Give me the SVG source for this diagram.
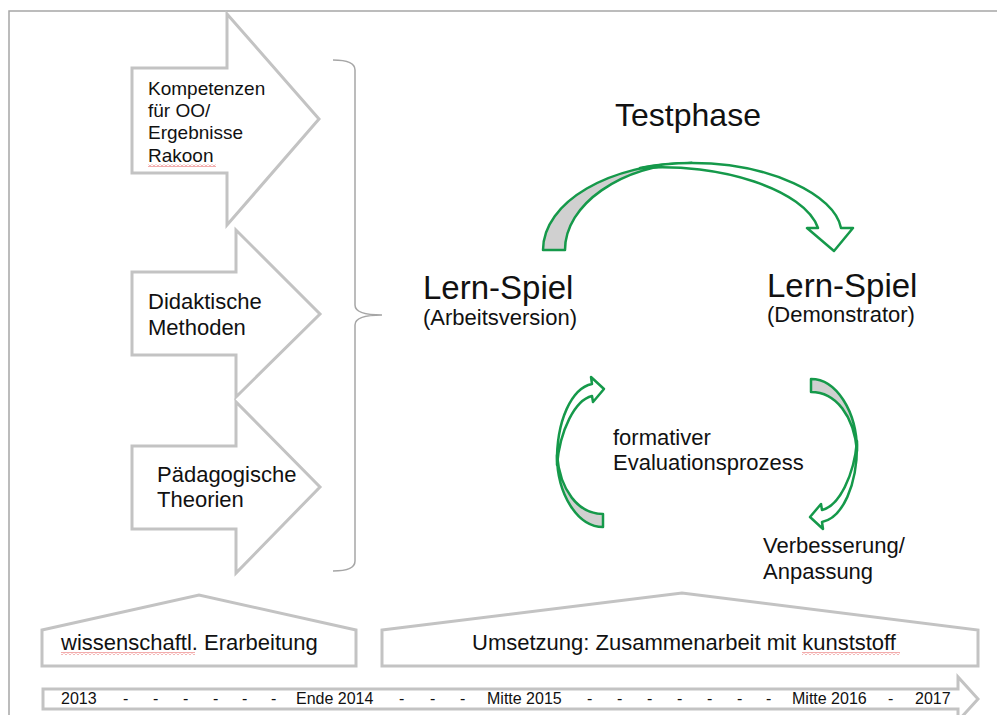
<svg xmlns="http://www.w3.org/2000/svg" width="997" height="715" viewBox="0 0 997 715">
<style>
.frame{fill:none;stroke:#a6a6a6;stroke-width:1.5}
.blk{fill:#ffffff;stroke:#c3c3c3;stroke-width:3;stroke-linejoin:miter}
.brace{fill:none;stroke:#a6a6a6;stroke-width:1.5}
.g{stroke:#15994a;stroke-width:2.5;stroke-linejoin:round}
.gw{fill:#ffffff}
.gg{fill:#d0d0d0}
text{font-family:"Liberation Sans",Arial,sans-serif;fill:#111111}
.s19{font-size:19px}
.s22{font-size:22px}
.big{font-size:33px}
.tl{font-size:16px}
</style>
<defs>
<pattern id="wave" width="4" height="3" patternUnits="userSpaceOnUse">
<path d="M0,2.5 L2,0.5 L4,2.5" fill="none" stroke="#e03030" stroke-width="0.8"/>
</pattern>
</defs>
<rect width="997" height="715" fill="#ffffff"/>
<path class="frame" d="M9,715 V11 H997"/>

<g id="arrow-kompetenzen">
<polygon class="blk" points="132,68 227,68 227,14 319,119 227,225 227,173 132,173"/>
<text class="s19" x="148" y="95">Kompetenzen</text>
<text class="s19" x="148" y="117">für OO/</text>
<text class="s19" x="148" y="139">Ergebnisse</text>
<text class="s19" x="148" y="162">Rakoon</text>
<rect x="148" y="164" width="68" height="3" fill="url(#wave)"/>
</g>
<g id="arrow-didaktik">
<polygon class="blk" points="132,272 236,272 236,230 320,314 236,397 236,355 132,355"/>
<text class="s22" x="148" y="309">Didaktische</text>
<text class="s22" x="148" y="335">Methoden</text>
</g>
<g id="arrow-paedagogik">
<polygon class="blk" points="132,446 236,446 236,402 320,487 236,573 236,529 132,529"/>
<text class="s22" x="157" y="482">Pädagogische</text>
<text class="s22" x="157" y="507">Theorien</text>
</g>

<g id="brace">
<path class="brace" d="M333,60 Q355,60 355,70 V305 Q355,315 382,315 Q355,315 355,325 V561 Q355,571 333,571"/>
</g>

<g id="testphase">
<text x="688" y="126" text-anchor="middle" style="font-size:32px">Testphase</text>
</g>
<g id="lernspiel-arbeitsversion">
<text class="big" x="423" y="299">Lern-Spiel</text>
<text class="s22" x="423" y="325">(Arbeitsversion)</text>
</g>
<g id="lernspiel-demonstrator">
<text class="big" x="767" y="297">Lern-Spiel</text>
<text class="s22" x="767" y="322">(Demonstrator)</text>
</g>
<g id="evaluation">
<text class="s22" x="613" y="445">formativer</text>
<text class="s22" x="613" y="470">Evaluationsprozess</text>
</g>
<g id="verbesserung">
<text class="s22" x="763" y="553">Verbesserung/</text>
<text class="s22" x="763" y="579">Anpassung</text>
</g>

<g id="connectors">
<g id="arc-top">
<path class="g gg" d="M543,250 C543,202 610,163 692,163 C620,165 565,205 565,250 Z"/>
<path class="g gw" d="M640,168 C660,164 675,163 692,163 C770,163 835,195 841,228 L853,228 L834,251 L807,228 L818,228 C805,190 720,162 640,168 Z"/>
</g>
<g id="arc-left">
<path class="g gg" d="M603,527 C578,527 557,495 557,455 C560,490 578,514 603,514 Z"/>
<path class="g gw" d="M557,465 C556,420 572,388 592,384 L591,377 L604,389 L593,402 L592,396 C575,400 560,430 557,465 Z"/>
</g>
<g id="arc-right" transform="rotate(180 707 453)">
<path class="g gg" d="M603,527 C578,527 557,495 557,455 C560,490 578,514 603,514 Z"/>
<path class="g gw" d="M557,465 C556,420 572,388 592,384 L591,377 L604,389 L593,402 L592,396 C575,400 560,430 557,465 Z"/>
</g>
</g>

<g id="phase-wissenschaft">
<polygon class="blk" points="42,630 199,595 356,630 356,666 42,666"/>
<text class="s22" x="61" y="650">wissenschaftl. Erarbeitung</text>
<rect x="61" y="652" width="134" height="3" fill="url(#wave)"/>
</g>
<g id="phase-umsetzung">
<polygon class="blk" points="382,630 682,593 978,630 978,666 382,666"/>
<text class="s22" x="684" y="650" text-anchor="middle">Umsetzung: Zusammenarbeit mit kunststoff</text>
<rect x="802" y="652" width="98" height="3" fill="url(#wave)"/>
</g>

<g id="timeline">
<polygon class="blk" points="43,689 958,689 958,677 978,699 958,721 958,709 43,709"/>
<text class="tl" x="61" y="704">2013</text>
<text class="tl" x="123" y="704">-</text>
<text class="tl" x="153" y="704">-</text>
<text class="tl" x="183" y="704">-</text>
<text class="tl" x="213" y="704">-</text>
<text class="tl" x="242" y="704">-</text>
<text class="tl" x="271" y="704">-</text>
<text class="tl" x="296" y="704">Ende 2014</text>
<text class="tl" x="399" y="704">-</text>
<text class="tl" x="430" y="704">-</text>
<text class="tl" x="460" y="704">-</text>
<text class="tl" x="487" y="704">Mitte 2015</text>
<text class="tl" x="587" y="704">-</text>
<text class="tl" x="617" y="704">-</text>
<text class="tl" x="647" y="704">-</text>
<text class="tl" x="677" y="704">-</text>
<text class="tl" x="707" y="704">-</text>
<text class="tl" x="737" y="704">-</text>
<text class="tl" x="766" y="704">-</text>
<text class="tl" x="792" y="704">Mitte 2016</text>
<text class="tl" x="888" y="704">-</text>
<text class="tl" x="915" y="704">2017</text>
</g>
</svg>
